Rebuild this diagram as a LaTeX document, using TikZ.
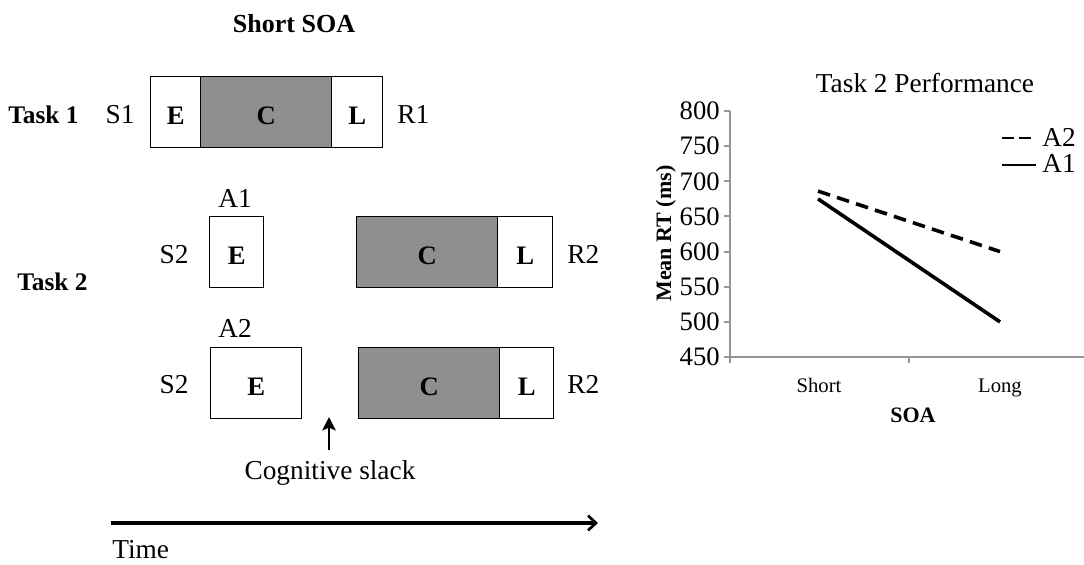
\documentclass[tikz,border=0pt]{standalone}
\usepackage{fontspec}
\setmainfont{Liberation Serif}
\usetikzlibrary{arrows.meta}
\definecolor{cbox}{RGB}{143,143,143}
\definecolor{axisgray}{RGB}{150,150,150}
\begin{document}
\begin{tikzpicture}[x=0.75pt,y=-0.75pt,
  stagebox/.style={draw=black,line width=1.1pt,inner sep=0pt,anchor=north west,
    minimum height=53.25pt,text height=18.2pt,text depth=0pt,
    font=\fontsize{20}{20}\selectfont\bfseries},
  cbx/.style={stagebox,fill=cbox},
  lbl/.style={inner sep=0pt,anchor=base,font=\fontsize{20.5}{20.5}\selectfont},
  lblw/.style={lbl,anchor=base west},
  blbl/.style={inner sep=0pt,anchor=base west,font=\fontsize{19}{19}\selectfont\bfseries},
  ticklbl/.style={inner sep=0pt,anchor=east,font=\fontsize{20}{20}\selectfont},
  catlbl/.style={inner sep=0pt,anchor=base,font=\fontsize{15.5}{15.5}\selectfont},
  axisline/.style={draw=axisgray,line width=1.4pt},
  dataline/.style={line width=2.7pt},
  dashline/.style={dataline,dash pattern=on 9.5pt off 5.5pt},
  legline/.style={line width=1.6pt}
]
\useasboundingbox (0,0) rectangle (1084,564);
% ---------- left: timing diagram ----------
\node[inner sep=0pt,anchor=base,font=\fontsize{19.5}{19.5}\selectfont\bfseries] (title) at (294,32) {Short SOA};
% Task 1
\node[blbl] (task1) at (8,123) {Task 1};
\node[lbl] (s1) at (120,123) {S1};
\node[stagebox,minimum width=37.5pt] (e1) at (150,76) {E};
\node[cbx,minimum width=98.25pt] (c1) at (200,76) {C};
\node[stagebox,minimum width=38.25pt] (l1) at (331,76) {L};
\node[lblw] (r1) at (397,123) {R1};
% Task 2
\node[blbl] (task2) at (17,290) {Task 2};
% row A1
\node[lbl] (a1) at (235,207) {A1};
\node[lbl] (s2a) at (174,263) {S2};
\node[stagebox,minimum width=40.5pt] (e2a) at (209,216) {E};
\node[cbx,minimum width=105.75pt] (c2a) at (356,216) {C};
\node[stagebox,minimum width=41.25pt] (l2a) at (497,216) {L};
\node[lblw] (r2a) at (567,263) {R2};
% row A2
\node[lbl] (a2) at (235,337) {A2};
\node[lbl] (s2b) at (174,393) {S2};
\node[stagebox,minimum width=68.25pt] (e2b) at (210,347) {E};
\node[cbx,minimum width=105.75pt] (c2b) at (358,347) {C};
\node[stagebox,minimum width=40.5pt] (l2b) at (499,347) {L};
\node[lblw] (r2b) at (567,393) {R2};
% cognitive slack
\coordinate (slackbot) at (329,450);
\coordinate (slacktop) at (329,417);
\draw[line width=2.2pt,-{Stealth[length=10pt,width=10pt,inset=2pt]}] (slackbot) -- (slacktop);
\node[lbl] (slack) at (330,479) {Cognitive slack};
% time
\coordinate (t0) at (111,523);
\coordinate (t1) at (598,523);
\draw[line width=2.3pt,-{Straight Barb[length=6pt,width=11pt,line width=2pt]}] (t0) -- (t1);
\node[lblw] (time) at (112,558) {Time};
% ---------- right: chart ----------
\node[inner sep=0pt,anchor=base,font=\fontsize{20.5}{20.5}\selectfont] (ctitle) at (925,92) {Task 2 Performance};
\coordinate (o) at (730,357);
\coordinate (ytop) at (730,111);
\coordinate (xend) at (1084,357);
\draw[axisline] (ytop) -- (o) -- (xend);
\foreach \v/\yy in {800/111,750/146.1,700/181.3,650/216.4,600/251.6,550/286.7,500/321.9,450/357}{
  \draw[axisline] (724,\yy) -- (730,\yy);
  \node[ticklbl] (t\v) at (720,\yy) {\v};
}
\draw[axisline] (730,357) -- (730,363);
\draw[axisline] (909,357) -- (909,363);
\node[catlbl] (cshort) at (819,392) {Short};
\node[catlbl] (clong) at (1000,392) {Long};
\node[inner sep=0pt,anchor=base,font=\fontsize{16.5}{16.5}\selectfont\bfseries] (xlab) at (913,422) {SOA};
\node[inner sep=0pt,anchor=base,rotate=90,font=\fontsize{16.5}{16.5}\selectfont\bfseries] (ylab) at (671,233.5) {Mean RT (ms)};
% data
\coordinate (a2s) at (818,191.1);
\coordinate (a2l) at (1000,251.6);
\coordinate (a1s) at (818,198.9);
\coordinate (a1l) at (1000,321.9);
\draw[dashline] (a2s) -- (a2l);
\draw[dataline] (a1s) -- (a1l);
% legend
\coordinate (lg2a) at (1002,138);
\coordinate (lg2b) at (1036,138);
\coordinate (lg1a) at (1002,165);
\coordinate (lg1b) at (1036,165);
\draw[legline,dash pattern=on 9pt off 4pt] (lg2a) -- (lg2b);
\draw[legline] (lg1a) -- (lg1b);
\node[inner sep=0pt,anchor=base west,font=\fontsize{20.5}{20.5}\selectfont] (legA2) at (1042,146) {A2};
\node[inner sep=0pt,anchor=base west,font=\fontsize{20.5}{20.5}\selectfont] (legA1) at (1042,172) {A1};
\end{tikzpicture}
\end{document}
